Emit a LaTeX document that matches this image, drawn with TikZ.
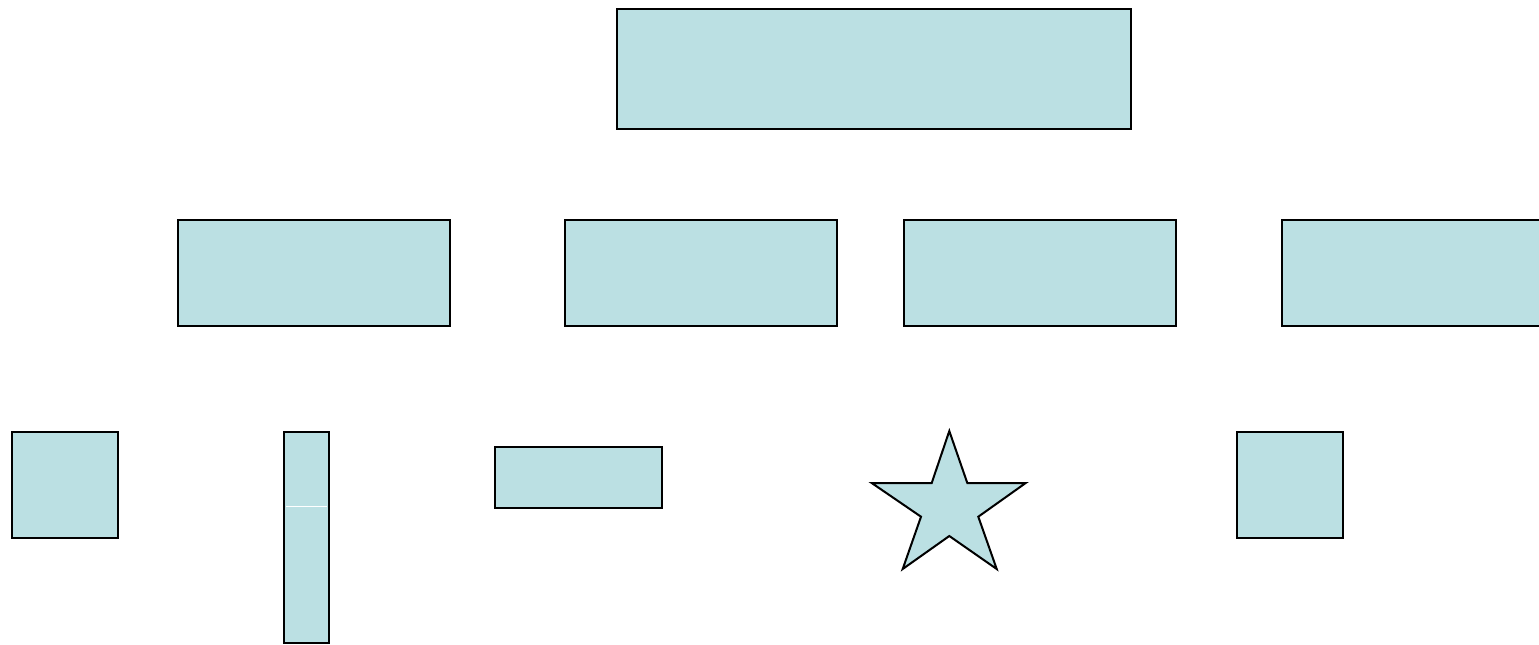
\documentclass[tikz,border=0pt]{standalone}
\definecolor{boxfill}{HTML}{BBE0E3}
\tikzset{
  box/.style={draw=black, fill=boxfill, line width=2pt, inner sep=0pt, outer sep=0pt, rectangle},
  starshape/.style={draw=black, fill=boxfill, line width=2pt, line join=miter}
}
\begin{document}
\begin{tikzpicture}[x=1pt,y=-1pt]
\useasboundingbox (0,0) rectangle (1539,645);
\clip (0,0) rectangle (1539,645);
% top
\node[box, minimum width=514pt, minimum height=120pt] (top) at (874,69) {};
% second row
\node[box, minimum width=272pt, minimum height=106pt] (m1) at (314,273) {};
\node[box, minimum width=272pt, minimum height=106pt] (m2) at (701,273) {};
\node[box, minimum width=272pt, minimum height=106pt] (m3) at (1040,273) {};
\node[box, minimum width=272pt, minimum height=106pt] (m4) at (1418,273) {};
% third row
\node[box, minimum width=106pt, minimum height=106pt] (b1) at (65,485) {};
\node[box, minimum width=45pt, minimum height=211pt] (b2) at (306.5,537.5) {};
\draw[white, line width=1pt] ([xshift=2pt]b2.west |- 0,506) -- ([xshift=-2pt]b2.east |- 0,506);
\node[box, minimum width=167pt, minimum height=61pt] (b3) at (578.5,477.5) {};
\node[box, minimum width=106pt, minimum height=106pt] (b5) at (1290,485) {};
% star
\draw[starshape] (949.3,431) -- (967.3,483) -- (1025.7,483) -- (978.3,516.7) -- (996.7,569)
  -- (949.3,536) -- (902.7,569) -- (921,516.7) -- (871.7,483) -- (931.7,483) -- cycle;
\end{tikzpicture}
\end{document}
